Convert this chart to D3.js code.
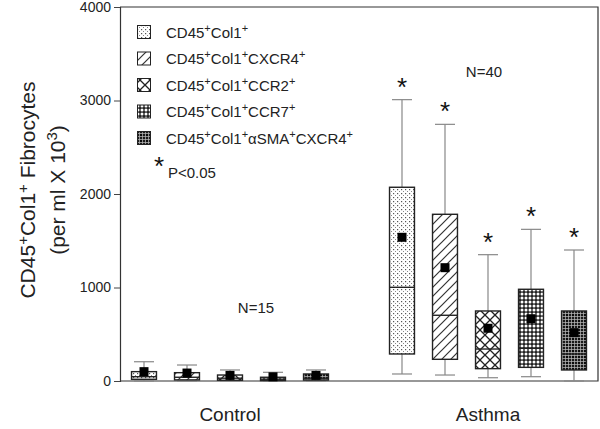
<!DOCTYPE html>
<html><head><meta charset="utf-8">
<script src="https://cdn.jsdelivr.net/npm/d3@7"></script>
<style>body{margin:0;background:#fff}svg{display:block;font-family:"Liberation Sans",Arial,sans-serif}</style>
</head><body><svg id="c" width="600" height="429"></svg>
<script>
const groups = ["Control", "Asthma"];
const series = ["CD45+Col1+", "CD45+Col1+CXCR4+", "CD45+Col1+CCR2+", "CD45+Col1+CCR7+", "CD45+Col1+αSMA+CXCR4+"];
const legendParts = [
  [["CD45","n"],["+","s"],["Col1","n"],["+","s"]],
  [["CD45","n"],["+","s"],["Col1","n"],["+","s"],["CXCR4","n"],["+","s"]],
  [["CD45","n"],["+","s"],["Col1","n"],["+","s"],["CCR2","n"],["+","s"]],
  [["CD45","n"],["+","s"],["Col1","n"],["+","s"],["CCR7","n"],["+","s"]],
  [["CD45","n"],["+","s"],["Col1","n"],["+","s"],["αSMA","n"],["+","s"],["CXCR4","n"],["+","s"]]
];
// [low whisker, Q1, median, Q3, high whisker, mean]
const controlStats = [
  [0, 18, 46, 100, 206, 100],
  [0, 12, 40, 89, 171, 85],
  [0, 8, 30, 64, 118, 60],
  [0, 5, 20, 40, 93, 45],
  [0, 10, 30, 75, 118, 60]
];
const asthmaStats = [
  [75, 289, 1002, 2072, 3009, 1537],
  [64, 232, 703, 1783, 2745, 1212],
  [35, 132, 342, 749, 1351, 564],
  [46, 146, 350, 981, 1622, 666],
  [0, 118, 289, 749, 1401, 517]
];
const asthmaSignificant = [true, true, true, true, true];
const groupN = ["N=15", "N=40"];
const yTicks = [0, 1000, 2000, 3000, 4000];

const svg = d3.select("#c");
const L = 120, R = 598, T = 7, B = 381;
const slots = d3.range(11);
const x = d3.scaleBand().domain(slots).range([122.5, 595.5]).paddingInner(0.42).paddingOuter(0.21);
const y = d3.scaleLinear().domain([0, 4000]).range([B, T]);

// patterns
const defs = svg.append("defs");
function pat(id, w, h, draw) {
  const p = defs.append("pattern").attr("id", id).attr("patternUnits", "userSpaceOnUse").attr("width", w).attr("height", h);
  p.append("rect").attr("width", w).attr("height", h).attr("fill", "#fff");
  draw(p);
}
pat("p0", 4, 4, p => {
  p.append("rect").attr("x", 1).attr("y", 1).attr("width", 1.2).attr("height", 1.2).attr("fill", "#555");
  p.append("rect").attr("x", 3).attr("y", 3).attr("width", 1.2).attr("height", 1.2).attr("fill", "#888");
});
pat("p1", 9, 9, p => {
  p.append("path").attr("d", "M-1,10 L10,-1 M-2,2 L2,-2 M7,11 L11,7").attr("stroke", "#333").attr("stroke-width", 1.2);
});
pat("p2", 10, 10, p => {
  p.append("path").attr("d", "M0,0 L10,10 M10,0 L0,10").attr("stroke", "#222").attr("stroke-width", 1.3);
});
pat("p3", 4, 4, p => {
  p.append("rect").attr("width", 4).attr("height", 4).attr("fill", "#222");
  p.append("circle").attr("cx", 2).attr("cy", 2).attr("r", 1.5).attr("fill", "#fff");
});
pat("p4", 6, 6, p => {
  p.append("rect").attr("width", 6).attr("height", 6).attr("fill", "#1a1a1a");
  p.append("path").attr("d", "M0,1.5 H6 M0,4.5 H6 M1.5,0 V6 M4.5,0 V6").attr("stroke", "#bbb").attr("stroke-width", 0.7);
  p.append("rect").attr("x", 2.2).attr("y", 2.2).attr("width", 1.6).attr("height", 1.6).attr("fill", "#000");
});

// frame + axis
svg.append("path").attr("d", `M${L},${T} H${R} V${B} H${L}`).attr("fill", "none").attr("stroke", "#333").attr("stroke-width", 1.2);
const ax = svg.append("g").attr("transform", `translate(${L},0)`)
  .call(d3.axisLeft(y).tickValues(yTicks).tickSize(6).tickPadding(3).tickFormat(d3.format("d")));
ax.select(".domain").attr("stroke", "#333").attr("stroke-width", 1.2);
ax.selectAll(".tick line").attr("stroke", "#444");
ax.selectAll("text").attr("font-size", 14).attr("fill", "#222").attr("font-family", "Liberation Sans, Arial, sans-serif");

// boxes
const bw = x.bandwidth();
function drawBoxes(stats, offset, stars) {
  stats.forEach((s, i) => {
    const cx = x(offset + i) + bw / 2;
    const g = svg.append("g");
    g.append("line").attr("x1", cx).attr("x2", cx).attr("y1", y(s[4])).attr("y2", y(s[3])).attr("stroke", "#888").attr("stroke-width", 1.2);
    g.append("line").attr("x1", cx).attr("x2", cx).attr("y1", y(s[1])).attr("y2", y(s[0])).attr("stroke", "#888").attr("stroke-width", 1.2);
    g.append("line").attr("x1", cx - 10).attr("x2", cx + 10).attr("y1", y(s[4])).attr("y2", y(s[4])).attr("stroke", "#888").attr("stroke-width", 1.2);
    g.append("line").attr("x1", cx - 10).attr("x2", cx + 10).attr("y1", y(s[0])).attr("y2", y(s[0])).attr("stroke", "#888").attr("stroke-width", 1.2);
    g.append("rect").attr("x", x(offset + i)).attr("width", bw).attr("y", y(s[3])).attr("height", y(s[1]) - y(s[3]))
      .attr("fill", `url(#p${i})`).attr("stroke", "#222").attr("stroke-width", 1.4);
    g.append("line").attr("x1", x(offset + i)).attr("x2", x(offset + i) + bw).attr("y1", y(s[2])).attr("y2", y(s[2])).attr("stroke", "#222").attr("stroke-width", 1.4);
    g.append("rect").attr("x", cx - 4.5).attr("y", y(s[5]) - 4.5).attr("width", 9).attr("height", 9).attr("fill", "#000");
    if (stars && stars[i]) {
      g.append("text").attr("x", cx).attr("y", y(s[4]) - 4).attr("text-anchor", "middle").attr("font-size", 26).attr("fill", "#111").text("*");
    }
  });
}
drawBoxes(controlStats, 0, null);
drawBoxes(asthmaStats, 6, asthmaSignificant);

// group labels
svg.selectAll(".gl").data(groups).enter().append("text")
  .attr("x", (d, i) => x(i * 6 + 2) + bw / 2).attr("y", 421).attr("text-anchor", "middle")
  .attr("font-size", 19).attr("fill", "#222").text(d => d);
svg.append("text").attr("x", x(2) + bw / 2 + 26).attr("y", 313).attr("text-anchor", "middle").attr("font-size", 15).attr("fill", "#222").text(groupN[0]);
svg.append("text").attr("x", x(8) + bw / 2 - 4).attr("y", 77).attr("text-anchor", "middle").attr("font-size", 15).attr("fill", "#222").text(groupN[1]);

// legend
const lg = svg.append("g");
legendParts.forEach((parts, i) => {
  const cy = 32 + i * 26.5;
  lg.append("rect").attr("x", 137.5).attr("y", cy - 6.5).attr("width", 13).attr("height", 13).attr("fill", `url(#p${i})`).attr("stroke", "#222").attr("stroke-width", 1);
  const t = lg.append("text").attr("x", 166).attr("y", cy + 5.5).attr("font-size", 15).attr("fill", "#222");
  let sup = false;
  parts.forEach(([txt, k]) => {
    const ts = t.append("tspan").text(txt);
    if (k === "s" && !sup) { ts.attr("dy", -6).attr("font-size", 11); sup = true; }
    else if (k === "n" && sup) { ts.attr("dy", 6); sup = false; }
    else if (k === "s") ts.attr("font-size", 11);
  });
});
lg.append("text").attr("x", 154).attr("y", 175).attr("font-size", 26).attr("fill", "#111").text("*");
lg.append("text").attr("x", 168).attr("y", 178).attr("font-size", 15).attr("fill", "#222").text("P<0.05");

// y title
const yt = svg.append("text").attr("transform", "translate(35,190) rotate(-90)").attr("text-anchor", "middle").attr("font-size", 21).attr("fill", "#222");
yt.append("tspan").text("CD45");
yt.append("tspan").attr("dy", -7).attr("font-size", 15).text("+");
yt.append("tspan").attr("dy", 7).text("Col1");
yt.append("tspan").attr("dy", -7).attr("font-size", 15).text("+");
yt.append("tspan").attr("dy", 7).text(" Fibrocytes");
const yt2 = svg.append("text").attr("transform", "translate(65,190) rotate(-90)").attr("text-anchor", "middle").attr("font-size", 21).attr("fill", "#222");
yt2.append("tspan").text("(per ml X 10");
yt2.append("tspan").attr("dy", -8).attr("font-size", 15).text("3");
yt2.append("tspan").attr("dy", 8).text(")");
</script></body></html>
